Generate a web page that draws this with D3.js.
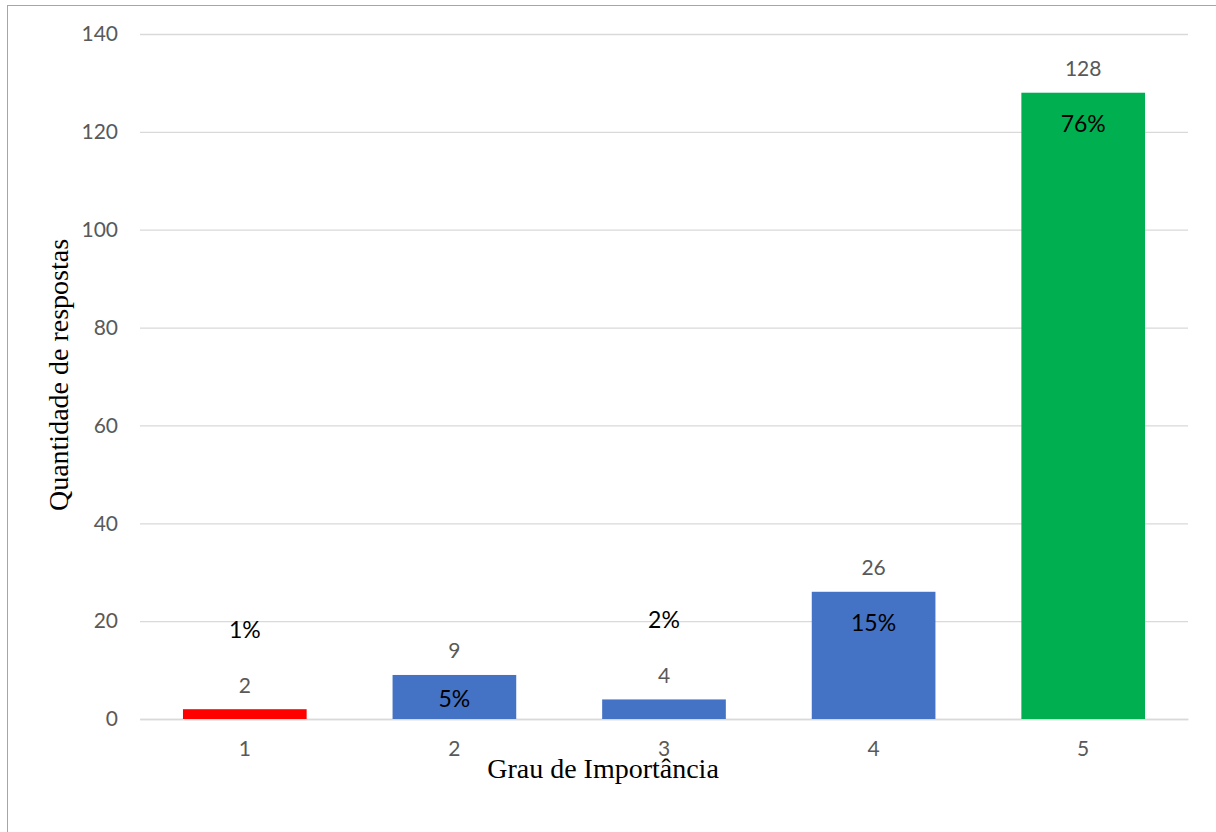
<!DOCTYPE html>
<html>
<head>
<meta charset="utf-8">
<script src="https://cdn.jsdelivr.net/npm/d3@7"></script>
<style>
  html, body { margin: 0; padding: 0; background: #fff; }
  svg { display: block; }
</style>
</head>
<body>
<svg id="chart" width="1216" height="832"></svg>
<script>
// Survey answers per importance grade
const categories = ["1", "2", "3", "4", "5"];
const responses = [2, 9, 4, 26, 128];
const percentLabels = ["1%", "5%", "2%", "15%", "76%"];
const barColors = ["#FF0000", "#4472C4", "#4472C4", "#4472C4", "#00B050"];
const yTicks = [0, 20, 40, 60, 80, 100, 120, 140];

const svg = d3.select("#chart");
const W = 1216, H = 832;
const margin = { left: 140, right: 28, top: 34, bottom: 113 };

// Outer frame of the chart area
svg.append("rect")
  .attr("x", 7.5).attr("y", 5.5)
  .attr("width", W + 20).attr("height", H + 20)
  .attr("fill", "none").attr("stroke", "#a6a6a6").attr("stroke-width", 1);

const x = d3.scaleBand()
  .domain(categories)
  .range([margin.left, W - margin.right])
  .paddingInner(0.41)
  .paddingOuter(0.205);

const y = d3.scaleLinear()
  .domain([0, 140])
  .range([H - margin.bottom, margin.top]);

const labelFont = "Lato, 'Open Sans', sans-serif";

// Horizontal gridlines + y tick labels
const yAxis = d3.axisLeft(y)
  .tickValues(yTicks)
  .tickSize(-(W - margin.right - margin.left))
  .tickPadding(22);

const gy = svg.append("g")
  .attr("transform", `translate(${margin.left},0)`)
  .call(yAxis);
gy.select(".domain").remove();
gy.selectAll(".tick line").attr("stroke", "#d9d9d9").attr("stroke-width", 1.3);
gy.selectAll(".tick text")
  .attr("fill", "#595959")
  .style("font-family", labelFont)
  .style("font-size", "21px");

// Category axis
const xAxis = d3.axisBottom(x).tickSize(0).tickPadding(22);
const gx = svg.append("g")
  .attr("transform", `translate(0,${y(0)})`)
  .call(xAxis);
gx.select(".domain").attr("stroke", "#d9d9d9").attr("stroke-width", 1.3);
gx.selectAll(".tick text")
  .attr("fill", "#595959")
  .style("font-family", labelFont)
  .style("font-size", "21px");

// Bars
svg.append("g").selectAll("rect")
  .data(responses)
  .join("rect")
  .attr("x", (d, i) => x(categories[i]))
  .attr("y", d => y(d))
  .attr("width", x.bandwidth())
  .attr("height", d => y(0) - y(d))
  .attr("fill", (d, i) => barColors[i]);

// Count labels above each bar
svg.append("g").selectAll("text")
  .data(responses)
  .join("text")
  .attr("x", (d, i) => x(categories[i]) + x.bandwidth() / 2)
  .attr("y", d => y(d) - 25)
  .attr("text-anchor", "middle")
  .attr("dominant-baseline", "central")
  .attr("fill", "#595959")
  .style("font-family", labelFont)
  .style("font-size", "21px")
  .text(d => d);

// Share labels: inside the bar when it is tall enough, else above the count
function pctY(d) {
  const top = y(d), bottom = y(0);
  if (bottom - top >= 40) return Math.min(top + 30, bottom - 21);
  return top - 25 - 55;
}
svg.append("g").selectAll("text")
  .data(responses)
  .join("text")
  .attr("x", (d, i) => x(categories[i]) + x.bandwidth() / 2)
  .attr("y", d => pctY(d))
  .attr("text-anchor", "middle")
  .attr("dominant-baseline", "central")
  .attr("fill", "#000")
  .style("font-family", labelFont)
  .style("font-size", "23px")
  .text((d, i) => percentLabels[i]);

// Axis titles
svg.append("text")
  .attr("x", 603)
  .attr("y", 778)
  .attr("text-anchor", "middle")
  .style("font-family", "'Liberation Serif', 'Times New Roman', serif")
  .style("font-size", "28px")
  .attr("fill", "#000")
  .text("Grau de Importância");

svg.append("text")
  .attr("transform", `translate(68,${375}) rotate(-90)`)
  .attr("text-anchor", "middle")
  .style("font-family", "'Liberation Serif', 'Times New Roman', serif")
  .style("font-size", "28px")
  .attr("fill", "#000")
  .text("Quantidade de respostas");
</script>
</body>
</html>
